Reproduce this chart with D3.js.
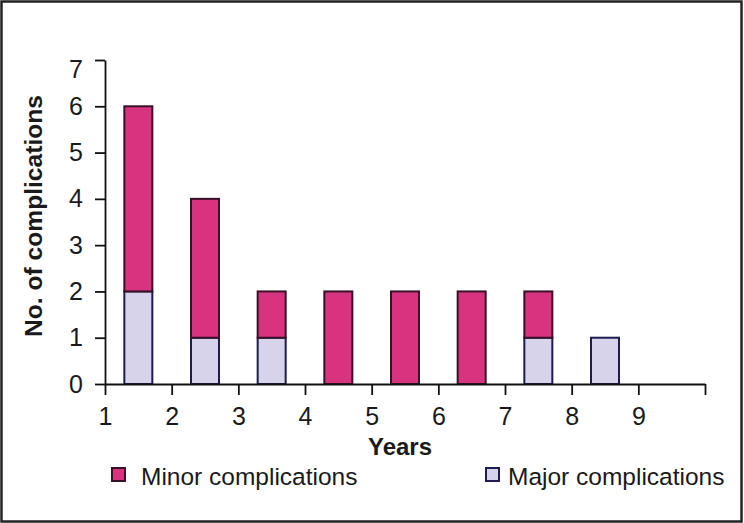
<!DOCTYPE html>
<html>
<head>
<meta charset="utf-8">
<script src="https://cdn.jsdelivr.net/npm/d3@7"></script>
<style>
  html, body { margin: 0; padding: 0; background: #fff; }
  svg { display: block; }
  text { font-family: "Liberation Sans", Arial, Helvetica, sans-serif; fill: #1a1a1a; }
</style>
</head>
<body>
<svg id="chart" width="744" height="523"></svg>
<script>
// ---- Data ----
const yearStarts = [1, 2, 3, 4, 5, 6, 7, 8];
const minorValues = [4, 3, 1, 2, 2, 2, 1, 0];
const majorValues = [2, 1, 1, 0, 0, 0, 1, 1];
const xTickValues = [1, 2, 3, 4, 5, 6, 7, 8, 9, 10];
const xTickLabels = ["1", "2", "3", "4", "5", "6", "7", "8", "9", ""];
const yTickValues = [0, 1, 2, 3, 4, 5, 6, 7];
const seriesNames = ["Minor complications", "Major complications"];

const colors = {
  minor: "#d8337f",
  minorStroke: "#3a1028",
  major: "#d6d3ea",
  majorStroke: "#1e1c4e"
};

const svg = d3.select("#chart");

// outer frame
svg.append("rect")
  .attr("x", 1.5).attr("y", 1.5)
  .attr("width", 740).attr("height", 520)
  .attr("fill", "none").attr("stroke", "#222").attr("stroke-width", 2.5);

const x = d3.scaleLinear().domain([1, 10]).range([105, 705]);
const y = d3.scaleLinear().domain([0, 7]).range([384, 60]);
const barW = 28;

const data = yearStarts.map((s, i) => ({ pos: s + 0.5, major: majorValues[i], minor: minorValues[i] }));

// major bars (bottom)
svg.append("g").selectAll("rect")
  .data(data.filter(d => d.major > 0))
  .join("rect")
  .attr("x", d => x(d.pos) - barW / 2)
  .attr("y", d => y(d.major))
  .attr("width", barW)
  .attr("height", d => y(0) - y(d.major))
  .attr("fill", colors.major)
  .attr("stroke", colors.majorStroke)
  .attr("stroke-width", 2);

// minor bars (stacked on top)
svg.append("g").selectAll("rect")
  .data(data.filter(d => d.minor > 0))
  .join("rect")
  .attr("x", d => x(d.pos) - barW / 2)
  .attr("y", d => y(d.major + d.minor))
  .attr("width", barW)
  .attr("height", d => y(d.major) - y(d.major + d.minor))
  .attr("fill", colors.minor)
  .attr("stroke", colors.minorStroke)
  .attr("stroke-width", 2);

// axes
const yAxis = d3.axisLeft(y).tickValues(yTickValues).tickFormat(d3.format("d"))
  .tickSize(10).tickSizeOuter(0).tickPadding(12);
const gy = svg.append("g").attr("transform", `translate(${x(1)},0)`).call(yAxis);

const xAxis = d3.axisBottom(x).tickValues(xTickValues)
  .tickFormat((d, i) => xTickLabels[i])
  .tickSize(11).tickSizeOuter(0).tickPadding(12);
const gx = svg.append("g").attr("transform", `translate(0,${y(0)})`).call(xAxis);

[gx, gy].forEach(g => {
  g.attr("font-size", 25).attr("font-family", "'Liberation Sans', Arial, Helvetica, sans-serif");
  g.selectAll("path.domain").attr("stroke", "#111").attr("stroke-width", 1.8);
  g.selectAll(".tick line").attr("stroke", "#111").attr("stroke-width", 1.8);
  g.selectAll(".tick text").attr("font-size", 25).attr("fill", "#1a1a1a");
});
// top label sits slightly below its tick in the reference
gy.selectAll(".tick text").filter(d => d === 7).attr("y", 9);

// axis titles
svg.append("text")
  .attr("x", 400).attr("y", 455)
  .attr("text-anchor", "middle")
  .attr("font-size", 24).attr("font-weight", "bold")
  .text("Years");

svg.append("text")
  .attr("transform", "translate(42,216) rotate(-90)")
  .attr("text-anchor", "middle")
  .attr("font-size", 24.6).attr("font-weight", "bold")
  .text("No. of complications");

// legend
const legend = [
  { name: seriesNames[0], fill: colors.minor, stroke: colors.minorStroke, sx: 112, tx: 141 },
  { name: seriesNames[1], fill: colors.major, stroke: colors.majorStroke, sx: 486, tx: 508 }
];
const lg = svg.append("g");
legend.forEach(l => {
  lg.append("rect").attr("x", l.sx).attr("y", 468).attr("width", 13).attr("height", 13)
    .attr("fill", l.fill).attr("stroke", l.stroke).attr("stroke-width", 2);
  lg.append("text").attr("x", l.tx).attr("y", 485)
    .attr("font-size", 24.5).text(l.name);
});
</script>
</body>
</html>
